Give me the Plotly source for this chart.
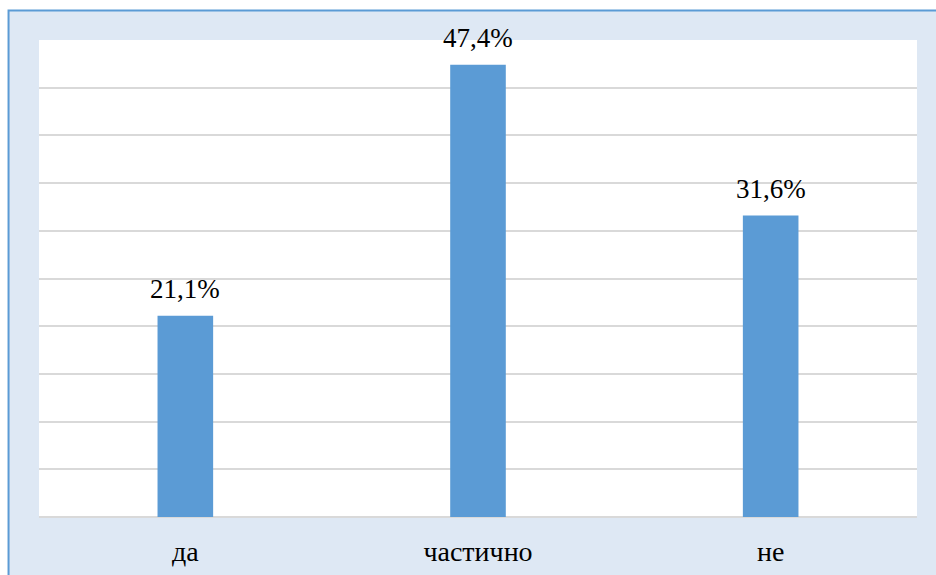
import plotly.graph_objects as go

categories = ["да", "частично", "не"]
values = [21.1, 47.4, 31.6]

serif = "Liberation Serif"

fig = go.Figure(
    go.Bar(
        x=categories,
        y=values,
        marker=dict(color="#5b9bd5", line=dict(width=0)),
        width=0.19,
        hoverinfo="skip",
    )
)

# value labels above each bar (comma as decimal separator)
for cat, val in zip(categories, values):
    fig.add_annotation(
        x=cat, y=val, xref="x", yref="y",
        text=f"{val:.1f}%".replace(".", ","),
        showarrow=False, yanchor="bottom", yshift=10,
        font=dict(family=serif, size=27, color="#000000"),
    )

# light blue chart frame behind the plotting area
fig.add_shape(
    type="rect", xref="paper", yref="paper",
    x0=-0.0347, x1=1.03, y0=-0.14, y1=1.0618,
    fillcolor="#dee8f4", line=dict(color="#5b9bd5", width=2),
    layer="below",
)
# white plotting area
fig.add_shape(
    type="rect", xref="paper", yref="paper",
    x0=0, x1=1, y0=0, y1=1,
    fillcolor="#ffffff", line=dict(width=0),
    layer="below",
)

fig.update_layout(
    width=936, height=575,
    margin=dict(l=39, r=19, t=40, b=58),
    paper_bgcolor="#ffffff",
    plot_bgcolor="#ffffff",
    showlegend=False,
    font=dict(family=serif, color="#000000"),
)
fig.update_xaxes(
    showgrid=False,
    showline=False,
    ticks="",
    automargin=False,
    tickfont=dict(family=serif, size=28, color="#000000"),
    ticklabelstandoff=15,
)
fig.update_yaxes(
    range=[0, 50],
    dtick=5,
    showticklabels=False,
    automargin=False,
    showgrid=True,
    gridcolor="#d9d9d9",
    gridwidth=1.5,
    zeroline=True,
    zerolinecolor="#d9d9d9",
    zerolinewidth=2,
    showline=False,
)

fig.write_html("out.html")
